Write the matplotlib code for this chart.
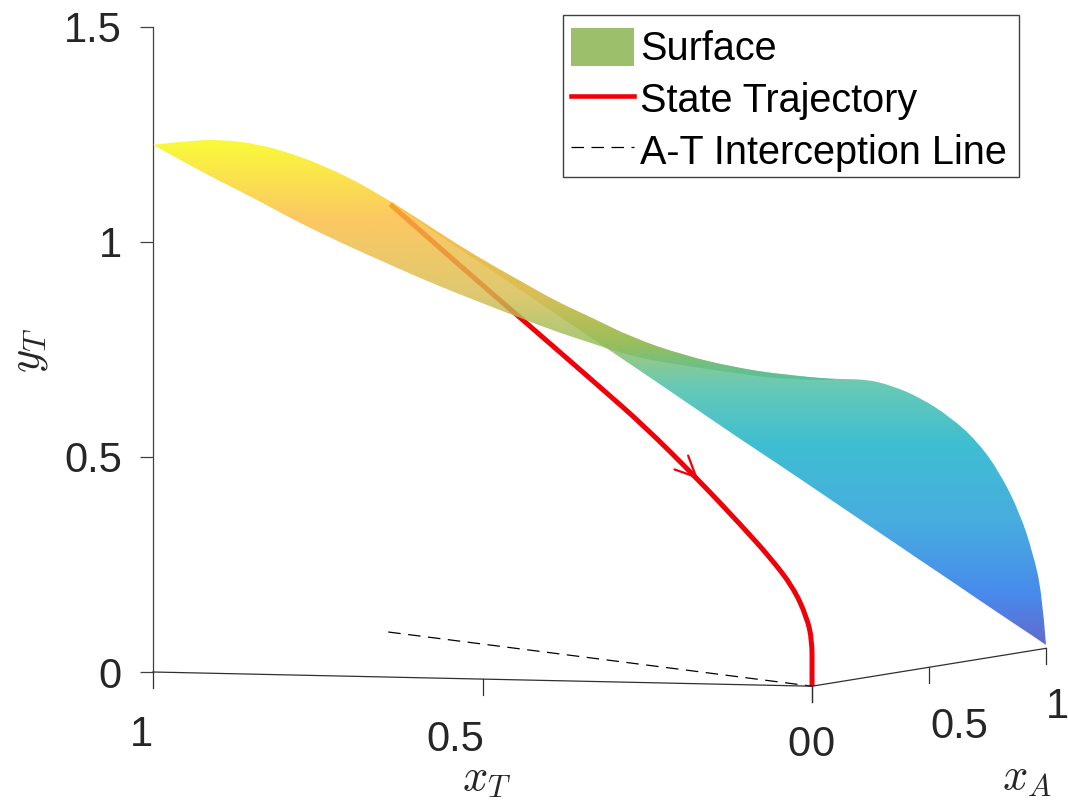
"""Superficie y trayectoria de estado, vista 3D proyectada sobre ejes 2D."""
import matplotlib
matplotlib.use("Agg")
import matplotlib.pyplot as plt
import numpy as np
from matplotlib.colors import LinearSegmentedColormap
from matplotlib.lines import Line2D
from matplotlib.patches import Patch, PathPatch, Rectangle
from matplotlib.path import Path

# bordes de la superficie en coordenadas proyectadas (h, v)
surf_h = [1.0, .944, .894, .842, .792, .742, .690, .640, .590, .539, .489, .439, .387, .337,
          .272, .196, .120, .044, -.032, -.083, -.123, -.164, -.209, -.250, -.285, -.316,
          -.335, -.349, -.355]
surf_top = [1.226, 1.236, 1.238, 1.228, 1.207, 1.178, 1.140, 1.095, 1.046, .995, .949, .906,
            .861, .826, .777, .737, .709, .691, .681, .681, .665, .638, .594, .538, .464,
            .367, .277, .184, .063]
# hoja izquierda: llega hasta h = -.032
sheet_a_low = [1.226, 1.178, 1.138, 1.098, 1.056, 1.018, .981, .947, .913, .881, .851, .821,
               .791, .766, .733, .713, .696, .680, .679]
# hoja derecha: empieza en h = .640
sheet_b_low = [1.093, 1.041, .988, .937, .885, .831, .779, .712, .633, .553, .476, .397, .344,
               .303, .260, .214, .171, .135, .103, .084, .069, .063]

traj_h = [.640, .539, .439, .322, .256, .175, .105, .064, .029, .008, 0, 0, 0]
traj_v = [1.088, .951, .819, .663, .574, .451, .337, .267, .198, .128, .074, .005, -.033]

intercept_h = [.643, 0]
intercept_v = [.093, -.033]

y_ticks = [0, 0.5, 1, 1.5]
y_tick_labels = ["0", "0.5", "1", "1.5"]
xt_ticks = [1, 0.5, 0]
xa_ticks = [0, 0.5, 1]

W, H = 1068, 808
plt.rcParams["font.family"] = ["Liberation Sans", "DejaVu Sans"]
plt.rcParams["mathtext.fontset"] = "cm"

colors = [(0.00, "#4048c4"), (0.10, "#2070e8"), (0.25, "#1f9cd8"), (0.40, "#14b0c8"),
          (0.52, "#48bfa4"), (0.60, "#94bc58"), (0.70, "#d8bc50"), (0.85, "#fcbc40"), (1.00, "#f8f810")]
cmap = LinearSegmentedColormap.from_list("surf", colors)
DASHES = (0, (10, 6))


def project(xt, xa):
    return xt - 0.355 * xa, -0.033 * (1 - xt) + 0.088 * xa


def smooth_verts(xs, ys):
    """Vértices y códigos CURVE3 que pasan por los puntos medios de la polilínea."""
    pts = np.column_stack([xs, ys])
    verts, codes = [], []
    for i in range(1, len(pts) - 1):
        end = pts[-1] if i == len(pts) - 2 else (pts[i] + pts[i + 1]) / 2
        verts += [pts[i], end]
        codes += [Path.CURVE3, Path.CURVE3]
    return pts[0], verts, codes


def sheet_path(hh, tt, ll):
    p0, v1, c1 = smooth_verts(hh, tt)
    _, v2, c2 = smooth_verts(hh[::-1], ll[::-1])
    verts = [p0] + v1 + [(hh[-1], ll[-1])] + v2 + [p0]
    codes = [Path.MOVETO] + c1 + [Path.LINETO] + c2 + [Path.CLOSEPOLY]
    return Path(verts, codes)


fig = plt.figure(figsize=(W / 100, H / 100), dpi=100)
ax = fig.add_axes([153 / W, 1 - 672 / H, (1046 - 153) / W, (672 - 27) / H])
ax.set_xlim(1, -0.355)
ax.set_ylim(0, 1.5)
for name in ("top", "right", "bottom"):
    ax.spines[name].set_visible(False)
ax.spines["left"].set_color("#404040")
ax.spines["left"].set_linewidth(0.9)
ax.set_xticks([])
ax.set_yticks(y_ticks)
ax.set_yticklabels(y_tick_labels, fontsize=30, color="#262626")
ax.tick_params(axis="y", length=9.5, width=0.9, color="#404040", pad=13)

# trayectoria debajo de la superficie translúcida
p0, tv, tc = smooth_verts(traj_h, traj_v)
ax.add_patch(PathPatch(Path([p0] + tv, [Path.MOVETO] + tc), fill=False, edgecolor="#f00008", lw=3.6,
                       clip_on=False, zorder=1, capstyle="butt"))
ax.annotate("", xy=(0.173, 0.449), xytext=(0.24, 0.55), zorder=1,
            arrowprops=dict(arrowstyle="->,head_length=1.5,head_width=0.7", color="#f00008", lw=1.6,
                            shrinkA=0, shrinkB=0))

h = np.array(surf_h)
top = np.array(surf_top)
n_a = len(sheet_a_low)
n_b = len(sheet_b_low)
gradient = np.linspace(1.30, 0.0, 650)[:, None]
for hh, tt, ll, z in ((h[-n_b:], top[-n_b:], np.array(sheet_b_low), 2),
                      (h[:n_a], top[:n_a], np.array(sheet_a_low), 3)):
    im = ax.imshow(gradient, extent=(1, -0.355, 0.0, 1.30), aspect="auto", cmap=cmap, vmin=0.06,
                   vmax=1.23, alpha=0.82, zorder=z, interpolation="bilinear")
    im.set_clip_path(PathPatch(sheet_path(hh, tt, ll), transform=ax.transData))
ax.set_xlim(1, -0.355)
ax.set_ylim(0, 1.5)

ax.plot(intercept_h, intercept_v, color="black", lw=0.9, ls=DASHES, clip_on=False, zorder=4)

# ejes xT y xA dibujados sobre el plano y = 0
tick_len = 16 / 430
xt_line = project(np.array(xt_ticks), 0 * np.array(xt_ticks))
xa_line = project(0 * np.array(xa_ticks), np.array(xa_ticks))
ax.plot(xt_line[0], xt_line[1], color="#303030", lw=0.9, clip_on=False, zorder=4)
ax.plot(xa_line[0], xa_line[1], color="#303030", lw=0.9, clip_on=False, zorder=4)
for hx, vx in zip(*xt_line):
    ax.plot([hx, hx], [vx, vx - tick_len], color="#303030", lw=0.9, clip_on=False, zorder=4)
for hx, vx in zip(*xa_line):
    ax.plot([hx, hx], [vx, vx - tick_len], color="#303030", lw=0.9, clip_on=False, zorder=4)


def label(px, py, s, **kw):
    fig.text(px / W, 1 - py / H, s, ha="center", va="center", **kw)


for px, py, s in ((141, 735, "1"), (455, 740, "0.5"), (799, 745, "0"),
                  (823, 745, "0"), (959, 727, "0.5"), (1057, 707, "1")):
    label(px, py, s, fontsize=30, color="#262626")
label(487, 780, "$x_T$", fontsize=32, color="#262626")
label(1027, 778, "$x_A$", fontsize=32, color="#262626")
label(30, 350, "$y_T$", fontsize=32, color="#262626", rotation=90)

# marco de la leyenda aparte para separar el relleno vertical del horizontal
ax.add_patch(Rectangle((563 / W, 1 - 177 / H), 456 / W, 162 / H, transform=fig.transFigure,
                       facecolor="white", edgecolor="#404040", lw=1.0, clip_on=False, zorder=5))
handles = [Patch(facecolor="#9cbf6c", edgecolor="none", label="Surface"),
           Line2D([], [], color="#f00008", lw=3.3, label="State Trajectory"),
           Line2D([], [], color="black", lw=0.9, ls=DASHES, label="A-T Interception Line")]
leg = ax.legend(handles=handles, loc="upper left", bbox_to_anchor=(571 / W, 1 - 28 / H),
                bbox_transform=fig.transFigure, fontsize=28.5, frameon=False, borderaxespad=0,
                borderpad=0, handlelength=1.6, handleheight=1.1, handletextpad=0.15, labelspacing=0.28)
leg.set_zorder(6)

fig.savefig("out.png", dpi=100)
